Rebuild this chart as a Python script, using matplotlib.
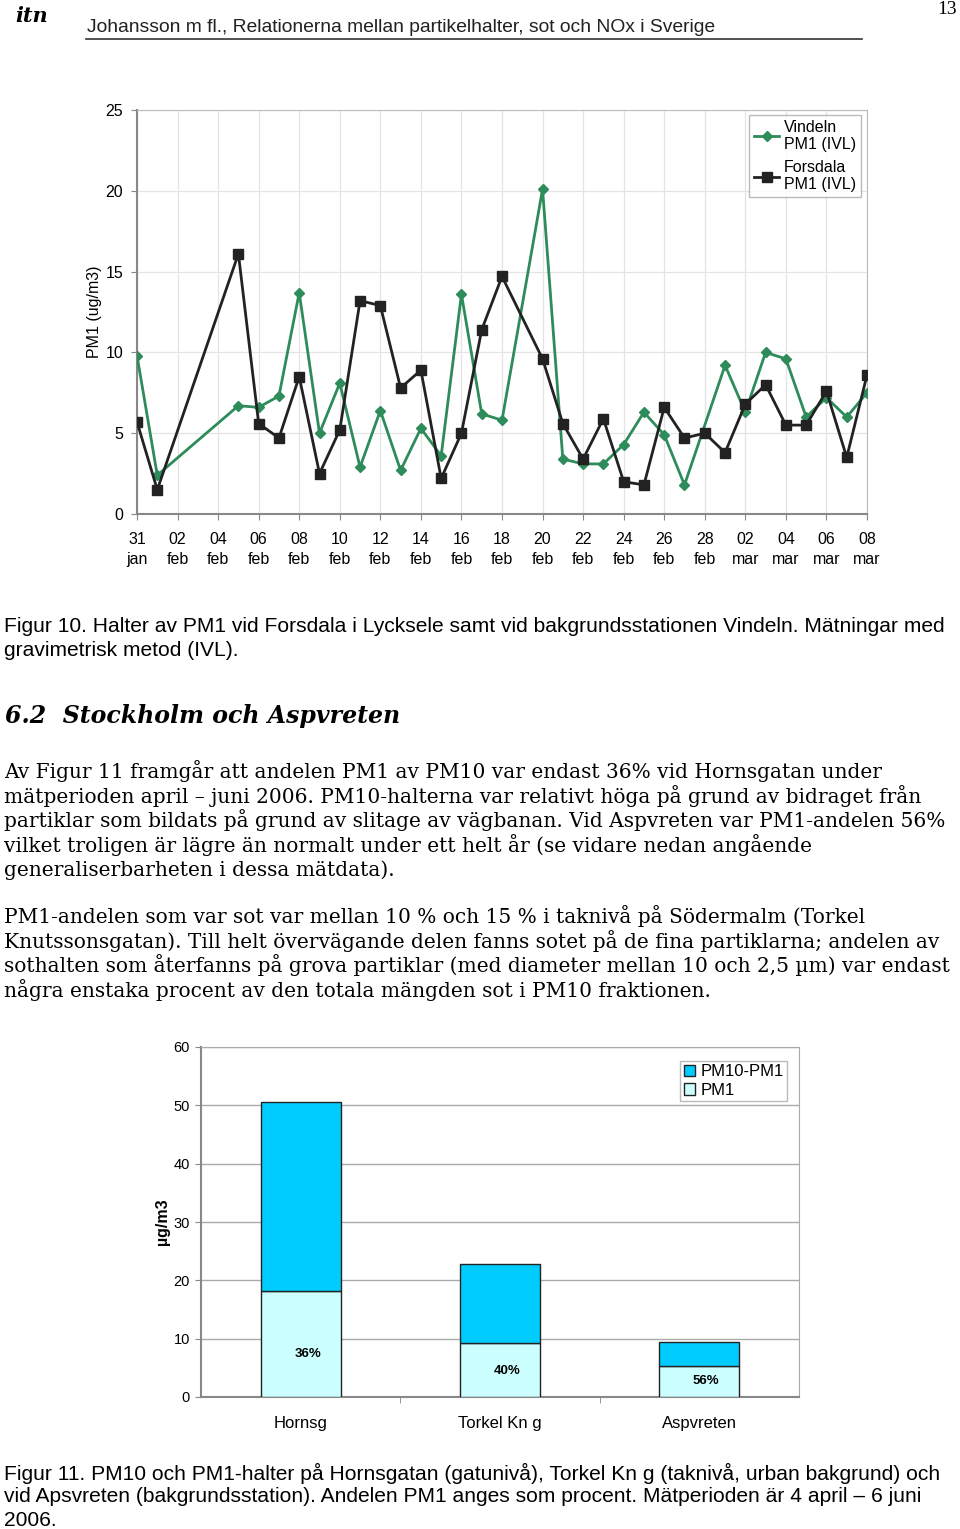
import numpy as np
import matplotlib
matplotlib.use("Agg")
import matplotlib.pyplot as plt

W, H = 960, 1529

# --- figur 10: PM1, dag räknat från 31 jan 2006 ---
vindeln_days = [0, 1, 5, 6, 7, 8, 9, 10, 11, 12, 13, 14, 15, 16, 17, 18,
                20, 21, 22, 23, 24, 25, 26, 27,
                29, 30, 31, 32, 33, 34, 35, 36]
vindeln_pm1 = [9.8, 2.4, 6.7, 6.6, 7.3, 13.7, 5.0, 8.1, 2.9, 6.4, 2.7, 5.3, 3.6, 13.6, 6.2, 5.8,
               20.1, 3.4, 3.1, 3.1, 4.3, 6.3, 4.9, 1.8,
               9.2, 6.3, 10.0, 9.6, 6.0, 7.2, 6.0, 7.5]
forsdala_days = [0, 1, 5, 6, 7, 8, 9, 10, 11, 12, 13, 14, 15, 16, 17, 18,
                 20, 21, 22, 23, 24, 25, 26, 27, 28, 29, 30, 31, 32, 33, 34, 35, 36]
forsdala_pm1 = [5.7, 1.5, 16.1, 5.6, 4.7, 8.5, 2.5, 5.2, 13.2, 12.9, 7.8, 8.9, 2.2, 5.0, 11.4, 14.7,
                9.6, 5.6, 3.4, 5.9, 2.0, 1.8, 6.6, 4.7, 5.0, 3.8, 6.8, 8.0, 5.5, 5.5, 7.6, 3.5, 8.6]
date_ticks = list(range(0, 37, 2))
date_labels = ["31\njan", "02\nfeb", "04\nfeb", "06\nfeb", "08\nfeb", "10\nfeb", "12\nfeb",
               "14\nfeb", "16\nfeb", "18\nfeb", "20\nfeb", "22\nfeb", "24\nfeb", "26\nfeb",
               "28\nfeb", "02\nmar", "04\nmar", "06\nmar", "08\nmar"]

# --- figur 11: PM10 och PM1 ---
sites = ["Hornsg", "Torkel Kn g", "Aspvreten"]
pm1 = [18.2, 9.2, 5.35]
pm10 = [50.6, 22.8, 9.5]

caption10 = ["Figur 10. Halter av PM1 vid Forsdala i Lycksele samt vid bakgrundsstationen Vindeln. Mätningar med",
             "gravimetrisk metod (IVL)."]
para1 = ["Av Figur 11 framgår att andelen PM1 av PM10 var endast 36% vid Hornsgatan under",
         "mätperioden april – juni 2006. PM10-halterna var relativt höga på grund av bidraget från",
         "partiklar som bildats på grund av slitage av vägbanan. Vid Aspvreten var PM1-andelen 56%",
         "vilket troligen är lägre än normalt under ett helt år (se vidare nedan angående",
         "generaliserbarheten i dessa mätdata)."]
para2 = ["PM1-andelen som var sot var mellan 10 % och 15 % i taknivå på Södermalm (Torkel",
         "Knutssonsgatan). Till helt övervägande delen fanns sotet på de fina partiklarna; andelen av",
         "sothalten som återfanns på grova partiklar (med diameter mellan 10 och 2,5 µm) var endast",
         "några enstaka procent av den totala mängden sot i PM10 fraktionen."]
caption11 = ["Figur 11. PM10 och PM1-halter på Hornsgatan (gatunivå), Torkel Kn g (taknivå, urban bakgrund) och",
             "vid Apsvreten (bakgrundsstation). Andelen PM1 anges som procent. Mätperioden är 4 april – 6 juni",
             "2006."]

sans = "Liberation Sans"
serif = "DejaVu Serif"

fig = plt.figure(figsize=(W / 100, H / 100), dpi=100)


def fx(px):
    return px / W


def fy(py):
    return 1 - py / H


def ax_rect(l, t, r, b):
    return [fx(l), fy(b), (r - l) / W, (b - t) / H]


# header
fig.text(fx(15), fy(16), "itn", family=serif, style="italic", weight="bold", fontsize=15, va="center")
fig.text(fx(87), fy(27), "Johansson m fl., Relationerna mellan partikelhalter, sot och NOx i Sverige",
         family=sans, fontsize=13.9, va="center", color="#222222")
fig.add_artist(plt.Line2D([fx(86), fx(862)], [fy(39), fy(39)], color="#333333", lw=1.2))
fig.text(fx(957), fy(9), "13", family="Liberation Serif", fontsize=14, ha="right", va="center")

# line chart
ax = fig.add_axes(ax_rect(137, 110, 867, 514))
ax.plot(vindeln_days, vindeln_pm1, color="#2e8b5a", lw=2, marker="D", ms=5,
        label="Vindeln\nPM1 (IVL)", zorder=3)
ax.plot(forsdala_days, forsdala_pm1, color="#222222", lw=2, marker="s", ms=7.5,
        label="Forsdala\nPM1 (IVL)", zorder=4)
ax.set_xlim(0, 36)
ax.set_ylim(0, 25)
ax.set_xticks(date_ticks)
ax.set_xticklabels(date_labels, fontsize=11.5, family=sans, linespacing=1.45)
ax.set_yticks(range(0, 26, 5))
ax.set_yticklabels([str(v) for v in range(0, 26, 5)], fontsize=11.5, family=sans)
ax.grid(True, color="#e4e4e4", lw=0.9)
ax.set_axisbelow(True)
for s in ["top", "right"]:
    ax.spines[s].set_color("#bbbbbb")
for s in ["left", "bottom"]:
    ax.spines[s].set_color("#888888")
    ax.spines[s].set_linewidth(1.5)
ax.tick_params(length=4, color="#888888", pad=6)
ax.tick_params(axis="x", pad=9)
ax.set_ylabel("PM1 (ug/m3)", fontsize=11.5, family=sans)
ax.yaxis.set_label_coords(-0.048, 0.5)
leg = ax.legend(loc="upper right", bbox_to_anchor=(0.992, 0.988), prop={"family": sans, "size": 11.5},
                frameon=True, fancybox=False, edgecolor="#aaaaaa", borderpad=0.3,
                handlelength=1.6, handletextpad=0.3, labelspacing=0.5, borderaxespad=0)
leg.get_frame().set_linewidth(1)

# caption 10
for i, s in enumerate(caption10):
    fig.text(fx(4), fy(627 + 24 * i), s, family=sans, fontsize=15.1, va="center")

# section heading
fig.text(fx(5), fy(716), "6.2  Stockholm och Aspvreten", family=serif, style="italic",
         weight="bold", fontsize=17, va="center")

for i, s in enumerate(para1):
    fig.text(fx(4), fy(771 + 24.7 * i), s, family=serif, fontsize=14.5, va="center")
for i, s in enumerate(para2):
    fig.text(fx(4), fy(916 + 24.7 * i), s, family=serif, fontsize=14.5, va="center")

# bar chart
bx = fig.add_axes(ax_rect(201, 1047, 799, 1397))
x = np.arange(len(sites))
coarse = [a - b for a, b in zip(pm10, pm1)]
bx.bar(x, pm1, width=0.4, color="#ccffff", edgecolor="#222222", lw=1, label="PM1", zorder=3)
bx.bar(x, coarse, bottom=pm1, width=0.4, color="#00ccff", edgecolor="#222222", lw=1,
       label="PM10-PM1", zorder=3)
label_dy = [-1.7, -0.1, 0.05]
for i in range(len(sites)):
    pct = round(100 * pm1[i] / pm10[i])
    bx.text(x[i] + 0.035, pm1[i] / 2 + label_dy[i], "%d%%" % pct, ha="center", va="center",
            fontsize=9.5, weight="bold", family=sans, zorder=5)
bx.set_xlim(-0.5, 2.5)
bx.set_ylim(0, 60)
bx.set_yticks(range(0, 61, 10))
bx.set_yticklabels([str(v) for v in range(0, 61, 10)], fontsize=10.5, family=sans)
bx.set_xticks(x)
bx.set_xticklabels(sites, fontsize=12, family=sans)
bx.set_xticks([0.5, 1.5], minor=True)
bx.tick_params(axis="x", which="major", length=0, pad=14)
bx.tick_params(axis="x", which="minor", length=4, color="#888888")
bx.tick_params(axis="y", length=4, color="#888888", pad=4)
bx.grid(True, axis="y", color="#aaaaaa", lw=1)
bx.set_axisbelow(True)
for s in ["top", "right"]:
    bx.spines[s].set_color("#aaaaaa")
for s in ["left", "bottom"]:
    bx.spines[s].set_color("#888888")
    bx.spines[s].set_linewidth(1.5)
bx.set_ylabel("µg/m3", fontsize=11.5, family=sans, weight="bold")
bx.yaxis.set_label_coords(-0.052, 0.5)
h, l = bx.get_legend_handles_labels()
bleg = bx.legend(h[::-1], l[::-1], loc="upper right", bbox_to_anchor=(0.98, 0.96),
                 prop={"family": sans, "size": 12}, frameon=True, fancybox=False,
                 edgecolor="#aaaaaa", borderpad=0.2, handlelength=0.7, handleheight=0.7,
                 handletextpad=0.3, labelspacing=0.2, borderaxespad=0)

for i, s in enumerate(caption11):
    fig.text(fx(4), fy(1473 + 24 * i), s, family=sans, fontsize=15.1, va="center")

fig.savefig("out.png", dpi=100, facecolor="white")
